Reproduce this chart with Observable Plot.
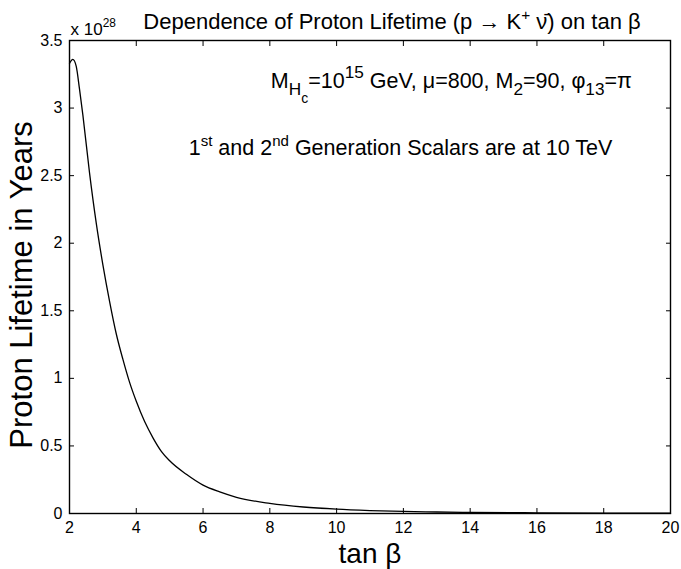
<!DOCTYPE html>
<html>
<head>
<meta charset="utf-8">
<script src="https://cdn.jsdelivr.net/npm/d3@7"></script>
<script src="https://cdn.jsdelivr.net/npm/@observablehq/plot@0.6"></script>
<style>
  body { margin: 0; background: #fff; }
  #chart svg { font-family: "Liberation Sans", Arial, Helvetica, sans-serif; }
</style>
</head>
<body>
<div id="chart"></div>
<script>
// tan(beta) sample points and proton lifetime in units of 1e28 years
const tanBeta     = [2.0, 2.1, 2.2, 2.3, 2.4, 2.6, 2.8, 3.0, 3.2, 3.4, 3.6, 3.8, 4.0, 4.25, 4.5, 4.75, 5.0, 5.5, 6.0, 6.5, 7.0, 8.0, 9.0, 10, 11, 12, 13, 14, 16, 18, 20];
const lifetimeE28 = [3.33, 3.36, 3.31, 3.14, 2.95, 2.52, 2.15, 1.84, 1.57, 1.33, 1.14, 0.97, 0.83, 0.68, 0.56, 0.46, 0.39, 0.29, 0.21, 0.16, 0.12, 0.075, 0.048, 0.032, 0.022, 0.015, 0.011, 0.008, 0.005, 0.003, 0.002];

const xTicks = [2, 4, 6, 8, 10, 12, 14, 16, 18, 20];
const xTickLabels = ["2", "4", "6", "8", "10", "12", "14", "16", "18", "20"];
const yTicks = [0, 0.5, 1, 1.5, 2, 2.5, 3, 3.5];
const yTickLabels = ["0", "0.5", "1", "1.5", "2", "2.5", "3", "3.5"];

const titleText = "Dependence of Proton Lifetime (p \u2192 K+ \u03BD\u0304) on tan \u03B2";
const exponentText = "x 1028";
const xLabel = "tan \u03B2";
const yLabel = "Proton Lifetime in Years";
const annotationTexts = ["MHc=1015 GeV, \u03BC=800, M2=90, \u03C613=\u03C0", "1st and 2nd Generation Scalars are at 10 TeV"];
const annotationX = [8.03, 5.57];
const annotationY = [3.15, 2.65];

const data = tanBeta.map((x, i) => ({x, y: lifetimeE28[i]}));
const annotations = annotationTexts.map((t, i) => ({t, x: annotationX[i], y: annotationY[i]}));

const font = '"Liberation Sans", Arial, Helvetica, sans-serif';

const plot = Plot.plot({
  width: 681,
  height: 569,
  marginLeft: 69,
  marginRight: 11,
  marginTop: 40,
  marginBottom: 56,
  style: {fontFamily: font, fontSize: "16px", color: "black", background: "white", overflow: "visible"},
  x: {domain: [2, 20]},
  y: {domain: [0, 3.5]},
  marks: [
    Plot.axisX({anchor: "bottom", ticks: xTicks, tickSize: -5, tickPadding: 13, tickFormat: d => xTickLabels[xTicks.indexOf(d)], label: null, fontSize: 16}),
    Plot.axisX({anchor: "top", ticks: xTicks, tickSize: -5, tickFormat: () => "", label: null}),
    Plot.axisY({anchor: "left", ticks: yTicks, tickSize: -5, tickPadding: 12, tickFormat: d => yTickLabels[yTicks.indexOf(d)], label: null, fontSize: 16}),
    Plot.axisY({anchor: "right", ticks: yTicks, tickSize: -5, tickFormat: () => "", label: null}),
    Plot.frame({stroke: "black", strokeWidth: 1.4}),
    Plot.line(data, {x: "x", y: "y", stroke: "black", strokeWidth: 1.3, curve: "monotone-x"}),
    Plot.text([titleText], {frameAnchor: "top", textAnchor: "middle", lineAnchor: "bottom", dx: 22, dy: -12, fontSize: 22}),
    Plot.text([exponentText], {frameAnchor: "top-left", textAnchor: "start", lineAnchor: "bottom", dx: 1, dy: -6, fontSize: 17}),
    Plot.text([yLabel], {frameAnchor: "left", textAnchor: "middle", lineAnchor: "middle", rotate: -90, dx: -47, dy: 8, fontSize: 31}),
    Plot.text([xLabel], {frameAnchor: "bottom", textAnchor: "middle", lineAnchor: "bottom", dy: 49, fontSize: 28}),
    Plot.text(annotations, {x: "x", y: "y", text: "t", textAnchor: "start", lineAnchor: "bottom", fontSize: 21.5})
  ]
});

document.getElementById("chart").appendChild(plot);

// rich text (superscripts / subscripts) on the text elements drawn by Plot
// parts: [string, baseline shift (em, up positive), size factor, optional dx (em)]
function setRich(str, parts) {
  const els = Array.from(plot.querySelectorAll("text")).filter(e => e.textContent === str);
  els.forEach(el => {
    const base = parseFloat(getComputedStyle(el).fontSize) || 16;
    const t = d3.select(el);
    t.text(null);
    let cur = 0;
    parts.forEach(([s, shift, scale, dx]) => {
      const sp = t.append("tspan")
        .attr("dy", (cur - shift) * base)
        .attr("font-size", base * scale)
        .text(s);
      if (dx) sp.attr("dx", dx * base);
      cur = shift;
    });
  });
}
setRich(titleText, [["Dependence of Proton Lifetime (p \u2192 K", 0, 1], ["+", 0.4, 0.7], [" \u03BD\u0304) on tan \u03B2", 0, 1]]);
setRich(exponentText, [["x 10", 0, 1], ["28", 0.45, 0.7]]);
setRich(annotationTexts[0], [["M", 0, 1], ["H", -0.35, 0.8], ["c", -0.7, 0.65], ["=10", 0, 1], ["15", 0.45, 0.8], [" GeV, \u03BC=800, M", 0, 1], ["2", -0.35, 0.8], ["=90, \u03C6", 0, 1], ["13", -0.35, 0.8], ["=\u03C0", 0, 1]]);
setRich(annotationTexts[1], [["1", 0, 1], ["st", 0.45, 0.7], [" and 2", 0, 1], ["nd", 0.45, 0.7], [" Generation Scalars are at 10 TeV", 0, 1]]);
</script>
</body>
</html>
